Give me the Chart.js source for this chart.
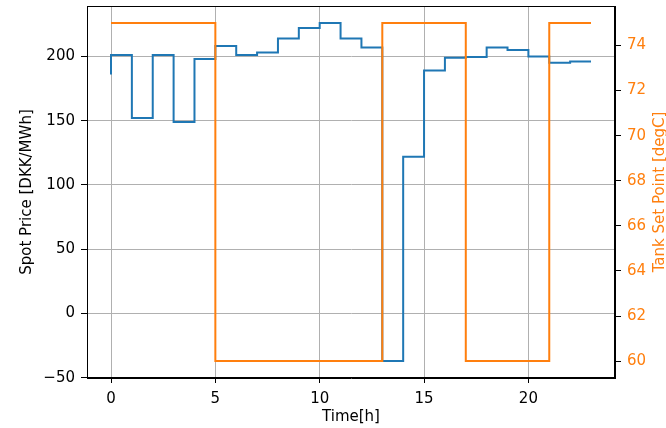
<!DOCTYPE html>
<html>
<head>
<meta charset="utf-8">
<script src="https://cdn.jsdelivr.net/npm/chart.js@4/dist/chart.umd.min.js"></script>
<style>
    html, body { margin: 0; padding: 0; background: #fff; }
    canvas { display: block; }
</style>
</head>
<body>
<canvas id="chart" width="666" height="428"></canvas>
<script>
const hours = [0, 1, 2, 3, 4, 5, 6, 7, 8, 9, 10, 11, 12, 13, 14, 15, 16, 17, 18, 19, 20, 21, 22, 23];
const spotPrice = [186, 201, 152, 201, 149, 198, 208, 201, 203, 214, 222, 226, 214, 207, -37, 122, 189, 199, 199.5, 207, 205, 200, 195, 196];
const tankSetPoint = [75, 75, 75, 75, 75, 75, 60, 60, 60, 60, 60, 60, 60, 60, 75, 75, 75, 75, 60, 60, 60, 60, 75, 75];

const timeTicks = [0, 5, 10, 15, 20];
const priceTicks = [-50, 0, 50, 100, 150, 200];
const tempTicks = [60, 62, 64, 66, 68, 70, 72, 74];

const BLUE = '#1f77b4';
const ORANGE = '#ff7f0e';
const FONT = "'DejaVu Sans', sans-serif";

function toPoints(xs, ys) {
    return xs.map((x, i) => ({ x: x, y: ys[i] }));
}

function fixedTicks(values) {
    return function (scale) {
        scale.ticks = values.map(v => ({ value: v }));
    };
}

function fitWidth(width) {
    return function (scale) {
        scale.width = width;
        // no extra room for half tick labels at the ends
        scale.paddingTop = 0;
        scale.paddingBottom = 0;
    };
}

// matplotlib style minus sign
const minusLabel = (value) => String(value).replace('-', '\u2212');

// frame on all four sides + right axis label reading bottom-to-top
const framePlugin = {
    id: 'frame',
    afterDraw(chart) {
        const { ctx, chartArea } = chart;
        ctx.save();
        ctx.strokeStyle = '#000';
        ctx.lineWidth = 1;
        ctx.strokeRect(chartArea.left + 0.5, chartArea.top + 0.5,
            chartArea.right - chartArea.left - 1, chartArea.bottom - chartArea.top - 1);
        ctx.translate(660, (chartArea.top + chartArea.bottom) / 2);
        ctx.rotate(-Math.PI / 2);
        ctx.fillStyle = ORANGE;
        ctx.font = '15px ' + FONT;
        ctx.textAlign = 'center';
        ctx.textBaseline = 'middle';
        ctx.fillText('Tank Set Point [degC]', 0, 0);
        ctx.restore();
    },
};

new Chart(document.getElementById('chart'), {
    type: 'line',
    data: {
        datasets: [
            {
                label: 'Tank Set Point',
                data: toPoints(hours, tankSetPoint),
                yAxisID: 'y2',
                borderColor: ORANGE,
                borderWidth: 2,
                stepped: 'after',
                pointRadius: 0,
                fill: false,
                order: 1,
            },
            {
                label: 'Spot Price',
                data: toPoints(hours, spotPrice),
                yAxisID: 'y',
                borderColor: BLUE,
                borderWidth: 2,
                stepped: 'after',
                pointRadius: 0,
                fill: false,
                order: 2,
            },
        ],
    },
    options: {
        responsive: false,
        animation: false,
        layout: { padding: { top: 6, left: 0, right: 0, bottom: 0 } },
        plugins: {
            legend: { display: false },
            tooltip: { enabled: false },
        },
        scales: {
            x: {
                type: 'linear',
                min: -1.15,
                max: 24.15,
                afterBuildTicks: fixedTicks(timeTicks),
                afterFit: (scale) => {
                    scale.height = 50;
                    scale.paddingLeft = 0;
                    scale.paddingRight = 0;
                },
                grid: { color: '#b0b0b0', tickColor: '#000', tickLength: 5 },
                border: { color: '#000', width: 1 },
                ticks: { color: '#000', font: { family: FONT, size: 15 }, padding: 7, maxRotation: 0 },
                title: { display: true, text: 'Time[h]', color: '#000', font: { family: FONT, size: 15 }, padding: { top: 0, bottom: 2 } },
            },
            y: {
                position: 'left',
                min: -50.2,
                max: 239.2,
                afterBuildTicks: fixedTicks(priceTicks),
                afterFit: fitWidth(87),
                grid: { color: '#b0b0b0', tickColor: '#000', tickLength: 6 },
                border: { color: '#000', width: 1 },
                ticks: { color: '#000', font: { family: FONT, size: 15 }, padding: 6, callback: minusLabel },
                title: { display: true, text: 'Spot Price [DKK/MWh]', color: '#000', font: { family: FONT, size: 15 }, padding: { top: 18, bottom: 0 } },
            },
            y2: {
                position: 'right',
                min: 59.25,
                max: 75.75,
                afterBuildTicks: fixedTicks(tempTicks),
                afterFit: fitWidth(51),
                grid: { drawOnChartArea: false, tickColor: '#000', tickLength: 6 },
                border: { color: '#000', width: 1 },
                ticks: { color: ORANGE, font: { family: FONT, size: 15 }, padding: 6 },
            },
        },
    },
    plugins: [framePlugin],
});
</script>
</body>
</html>
